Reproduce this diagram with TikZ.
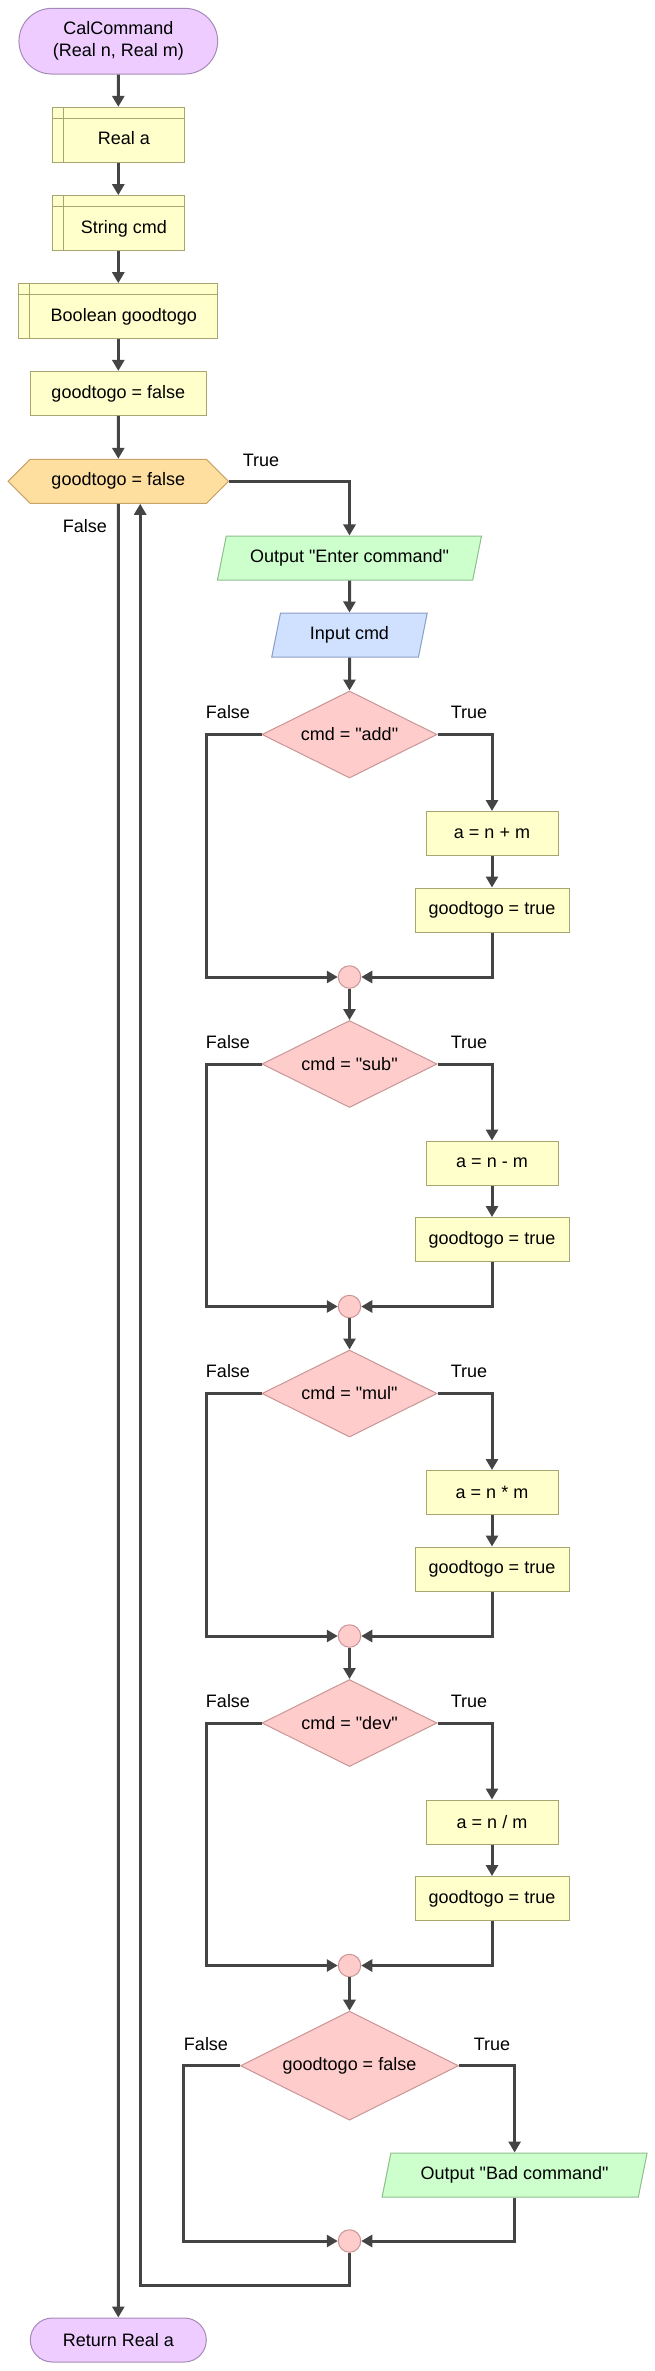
\documentclass[tikz,border=0pt]{standalone}
\usepackage{fontspec}
\setmainfont{Liberation Sans}[Ligatures=TeXOff]
\usetikzlibrary{arrows.meta,shapes.geometric,shapes.misc,shapes.symbols}
\definecolor{termfill}{HTML}{EECCFF}
\definecolor{termline}{HTML}{A58AB8}
\definecolor{procfill}{HTML}{FFFFCC}
\definecolor{procline}{HTML}{A6A66E}
\definecolor{loopfill}{HTML}{FFDFA0}
\definecolor{loopline}{HTML}{C9A468}
\definecolor{outfill}{HTML}{CCFFCC}
\definecolor{outline}{HTML}{8DBF8D}
\definecolor{infill}{HTML}{D0E0FF}
\definecolor{inline}{HTML}{8A9CC8}
\definecolor{decfill}{HTML}{FFCCCC}
\definecolor{decline}{HTML}{C99595}
\definecolor{linecol}{HTML}{444444}
\begin{document}
\begin{tikzpicture}[x=1pt,y=-1pt,
  every node/.style={font=\fontsize{18}{22}\selectfont,line width=1pt,inner sep=0pt},
  term/.style={rounded rectangle,draw=termline,fill=termfill,align=center,minimum width=176pt,minimum height=44pt},
  proc/.style={rectangle,draw=procline,fill=procfill,minimum width=132pt,minimum height=44pt},
  decl/.style={proc,minimum height=54.7pt,text height=24pt,text depth=4pt,
    execute at begin node=\hspace*{11pt},
    path picture={\draw[procline,line width=1pt]
      ([xshift=11pt]path picture bounding box.north west) -- ([xshift=11pt]path picture bounding box.south west)
      ([yshift=-11pt]path picture bounding box.north west) -- ([yshift=-11pt]path picture bounding box.north east);}},
  loopbox/.style={signal,signal to=west and east,signal pointer angle=90,draw=loopline,fill=loopfill,minimum width=220.4pt,minimum height=44pt},
  io/.style={trapezium,trapezium left angle=62.4,trapezium right angle=117.6,trapezium stretches body,minimum height=44pt},
  outbox/.style={io,draw=outline,fill=outfill,minimum width=264pt},
  inbox/.style={io,draw=inline,fill=infill,minimum width=155.5pt},
  dec/.style={diamond,aspect=2,draw=decline,fill=decfill,minimum width=175pt,minimum height=87pt},
  merge/.style={circle,draw=decline,fill=decfill,minimum size=22.5pt},
  lbl/.style={},
  arr/.style={draw=linecol,line width=3pt,-{Triangle[length=11pt,width=12pt]}}]
\useasboundingbox (0,0) rectangle (655,2371);
% start, declarations
\node[term,minimum width=198.7pt,minimum height=65.7pt] (start) at (118.3,41.2) {CalCommand\\(Real n, Real m)};
\node[decl] (da) at (118.3,134.7) {Real a};
\node[decl] (dcmd) at (118.3,223) {String cmd};
\node[decl,minimum width=199pt] (dgood) at (118.3,311) {Boolean goodtogo};
\node[proc,minimum width=175.5pt] (init) at (118.3,393.4) {goodtogo = false};
% while loop
\node[loopbox] (loop) at (118.3,481.3) {goodtogo = false};
\node[lbl] (ltrue) at (261,460) {True};
\node[lbl] (lfalse) at (85,526) {False};
\node[outbox] (enter) at (349.5,558) {Output "Enter command"};
\node[inbox] (read) at (349.5,635) {Input cmd};
% add
\node[dec] (add) at (349.5,734.5) {cmd = "add"};
\node[lbl] (addf) at (228,712.5) {False};
\node[lbl] (addt) at (469,712.5) {True};
\node[proc] (sum) at (492,833.5) {a = n + m};
\node[proc,minimum width=154pt] (okadd) at (492,910) {goodtogo = true};
\node[merge] (jadd) at (349.5,977) {};
% sub
\node[dec] (sub) at (349.5,1064) {cmd = "sub"};
\node[lbl] (subf) at (228,1042) {False};
\node[lbl] (subt) at (469,1042) {True};
\node[proc] (diff) at (492,1163) {a = n - m};
\node[proc,minimum width=154pt] (oksub) at (492,1239.5) {goodtogo = true};
\node[merge] (jsub) at (349.5,1306.5) {};
% mul
\node[dec] (mul) at (349.5,1393.5) {cmd = "mul"};
\node[lbl] (mulf) at (228,1371.5) {False};
\node[lbl] (mult) at (469,1371.5) {True};
\node[proc] (prod) at (492,1492.5) {a = n * m};
\node[proc,minimum width=154pt] (okmul) at (492,1569) {goodtogo = true};
\node[merge] (jmul) at (349.5,1636) {};
% dev
\node[dec] (dev) at (349.5,1723) {cmd = "dev"};
\node[lbl] (devf) at (228,1701) {False};
\node[lbl] (devt) at (469,1701) {True};
\node[proc] (quot) at (492,1822) {a = n / m};
\node[proc,minimum width=154pt] (okdev) at (492,1898.5) {goodtogo = true};
\node[merge] (jdev) at (349.5,1965.5) {};
% check
\node[dec,minimum width=218pt,minimum height=109pt] (check) at (349.5,2065.7) {goodtogo = false};
\node[lbl] (checkf) at (206,2044) {False};
\node[lbl] (checkt) at (492,2044) {True};
\node[outbox,minimum width=265pt] (bad) at (514.6,2175) {Output "Bad command"};
\node[merge] (jend) at (349.5,2241) {};
\node[term] (ret) at (118.3,2340) {Return Real a};
% connectors
\draw[arr] (start) -- (da);
\draw[arr] (da) -- (dcmd);
\draw[arr] (dcmd) -- (dgood);
\draw[arr] (dgood) -- (init);
\draw[arr] (init) -- (loop);
\draw[arr] (loop.east) -| (enter);
\draw[arr] (enter) -- (read);
\draw[arr] (read) -- (add);
\draw[arr] (add.east) -| (sum);
\draw[arr] (sum) -- (okadd);
\draw[arr] (okadd) |- (jadd);
\draw[arr] (add.west) -- ++(-55.3,0) |- (jadd);
\draw[arr] (jadd) -- (sub);
\draw[arr] (sub.east) -| (diff);
\draw[arr] (diff) -- (oksub);
\draw[arr] (oksub) |- (jsub);
\draw[arr] (sub.west) -- ++(-55.3,0) |- (jsub);
\draw[arr] (jsub) -- (mul);
\draw[arr] (mul.east) -| (prod);
\draw[arr] (prod) -- (okmul);
\draw[arr] (okmul) |- (jmul);
\draw[arr] (mul.west) -- ++(-55.3,0) |- (jmul);
\draw[arr] (jmul) -- (dev);
\draw[arr] (dev.east) -| (quot);
\draw[arr] (quot) -- (okdev);
\draw[arr] (okdev) |- (jdev);
\draw[arr] (dev.west) -- ++(-55.3,0) |- (jdev);
\draw[arr] (jdev) -- (check);
\draw[arr] (check.east) -| (bad);
\draw[arr] (bad) |- (jend);
\draw[arr] (check.west) -- ++(-56.5,0) |- (jend);
\draw[arr] (jend.south) -- ++(0,32.8) -| ([xshift=21.9pt]loop.south);
\draw[arr] (loop) -- (ret);
\end{tikzpicture}
\end{document}
